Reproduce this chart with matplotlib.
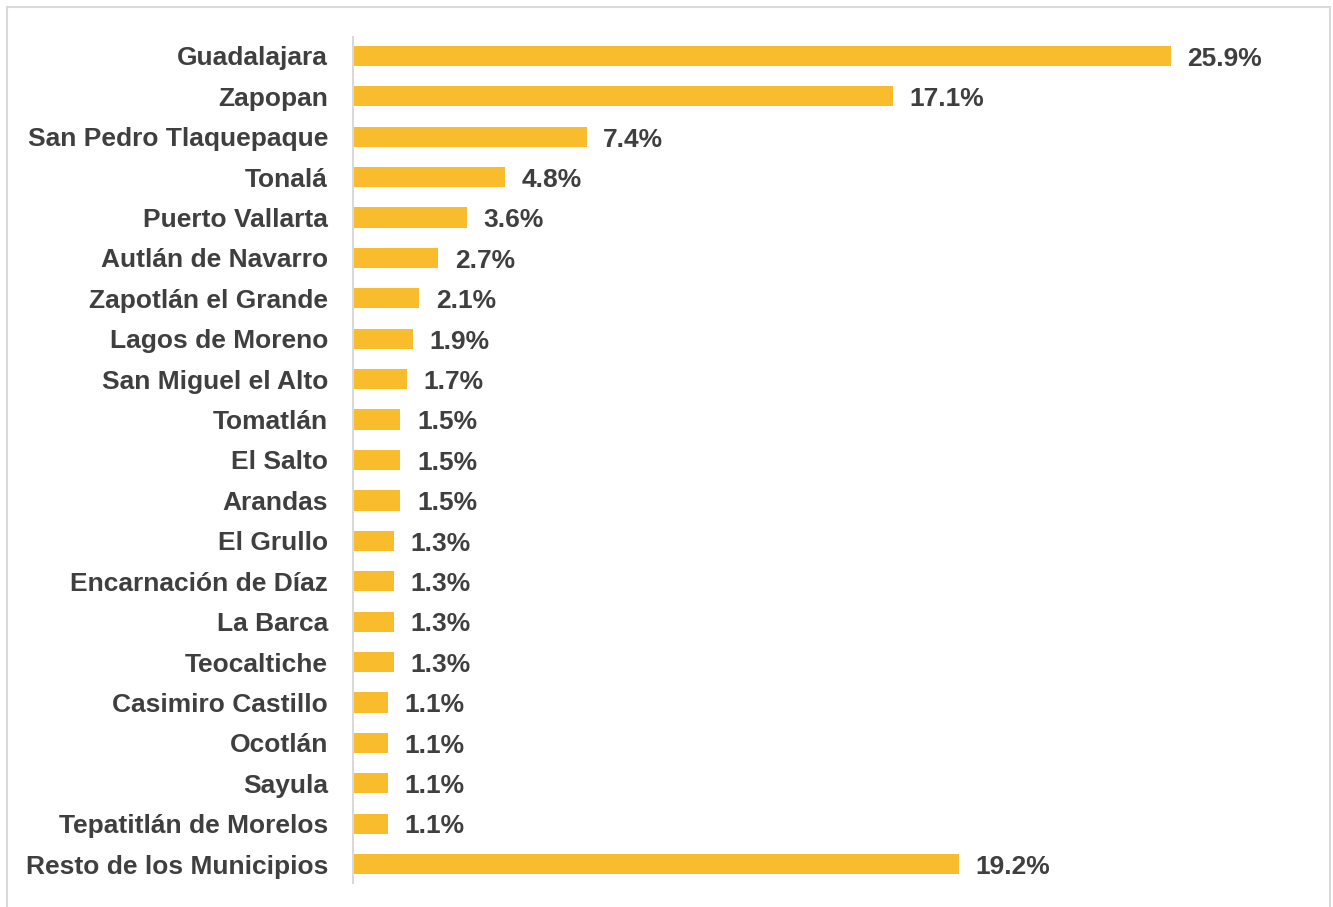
import matplotlib
matplotlib.use("Agg")
import matplotlib.pyplot as plt
from matplotlib.patches import Rectangle

categories = ["Guadalajara", "Zapopan", "San Pedro Tlaquepaque", "Tonalá",
              "Puerto Vallarta", "Autlán de Navarro", "Zapotlán el Grande",
              "Lagos de Moreno", "San Miguel el Alto", "Tomatlán", "El Salto",
              "Arandas", "El Grullo", "Encarnación de Díaz", "La Barca",
              "Teocaltiche", "Casimiro Castillo", "Ocotlán", "Sayula",
              "Tepatitlán de Morelos", "Resto de los Municipios"]
values = [25.9, 17.1, 7.4, 4.8, 3.6, 2.7, 2.1, 1.9, 1.7, 1.5, 1.5, 1.5,
          1.3, 1.3, 1.3, 1.3, 1.1, 1.1, 1.1, 1.1, 19.2]
labels = [f"{v:.1f}%" for v in values]

plt.rcParams['font.family'] = ['Liberation Sans', 'DejaVu Sans']
W, H = 1333, 907
fig = plt.figure(figsize=(W / 100, H / 100), dpi=100)

# outer frame
fig.patches.append(Rectangle((7 / W, -0.05), (1330 - 7) / W, (H - 7) / H + 0.05,
                             transform=fig.transFigure, fill=False,
                             edgecolor="#D9D9D9", linewidth=1.5))

ax = fig.add_axes([353 / W, 1 - 883 / H, (1300 - 353) / W, (883 - 37) / H])
ypos = list(range(len(categories)))
ax.barh(ypos, values, height=0.5, color="#F9BC2C")
ax.set_xlim(0, 30.0)
ax.set_ylim(20.47, -0.47)
ax.set_yticks(ypos)
ax.set_yticklabels(categories, fontsize=19, fontweight="bold", color="#3F3F3F")
ax.tick_params(axis="y", length=0, pad=18)
ax.set_xticks([])
for s in ["top", "right", "bottom"]:
    ax.spines[s].set_visible(False)
ax.spines["left"].set_color("#D9D9D9")
ax.spines["left"].set_linewidth(1.5)

for y, v, lab in zip(ypos, values, labels):
    ax.annotate(lab, (v, y), xytext=(12, -2), textcoords="offset points",
                ha="left", va="center", fontsize=19, fontweight="bold",
                color="#3F3F3F")

fig.savefig("out.png", dpi=100)
